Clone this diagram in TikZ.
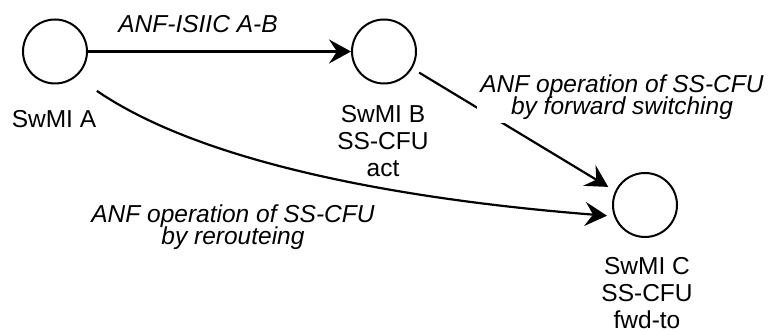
\documentclass[tikz,border=0pt]{standalone}
\usepackage{fontspec}
\setmainfont{Liberation Sans}
\usetikzlibrary{arrows.meta}
\begin{document}
\begin{tikzpicture}[x=1pt,y=1pt,
  site/.style={circle, draw, line width=2pt, minimum size=64pt, inner sep=0pt},
  lbl/.style={font={\fontsize{24.5}{27}\selectfont\lineskiplimit=-20pt\relax}, align=center, inner sep=0pt, anchor=north},
  elbl/.style={font={\fontsize{24.5}{22}\selectfont\itshape\lineskiplimit=-20pt\relax}, align=center, inner sep=3pt, fill=white},
  conn/.style={line width=2.2pt, -{Stealth[length=22pt,width=24pt,inset=8pt]}},
]
\useasboundingbox (0,0) rectangle (774,331);
\node[site] (A) at (55,279.5) {};
\node[site] (B) at (384,279.5) {};
\node[site] (C) at (645,126) {};
\node[lbl] (la) at (54,221) {SwMI A};
\node[lbl] (lb) at (383,226) {SwMI B\\SS-CFU\\act};
\node[lbl] (lc) at (647,74) {SwMI C\\SS-CFU\\fwd-to};
\draw[conn, line width=3pt] (A) -- (B);
\node[elbl, anchor=base, fill=none] (e1) at (198,298) {ANF-ISIIC A-B};
\draw[conn, shorten <=8pt, shorten >=8pt] (B.-31) -- (C.155);
\node[elbl, anchor=north] (e2) at (622,259) {ANF operation of SS-CFU\\by forward switching};
\draw[conn, shorten <=25pt, shorten >=7pt] (A.-50) .. controls (220,156) and (458,127) .. (C.200);
\node[elbl, anchor=north] (e3) at (233,129) {ANF operation of SS-CFU\\by rerouteing};
\end{tikzpicture}
\end{document}
